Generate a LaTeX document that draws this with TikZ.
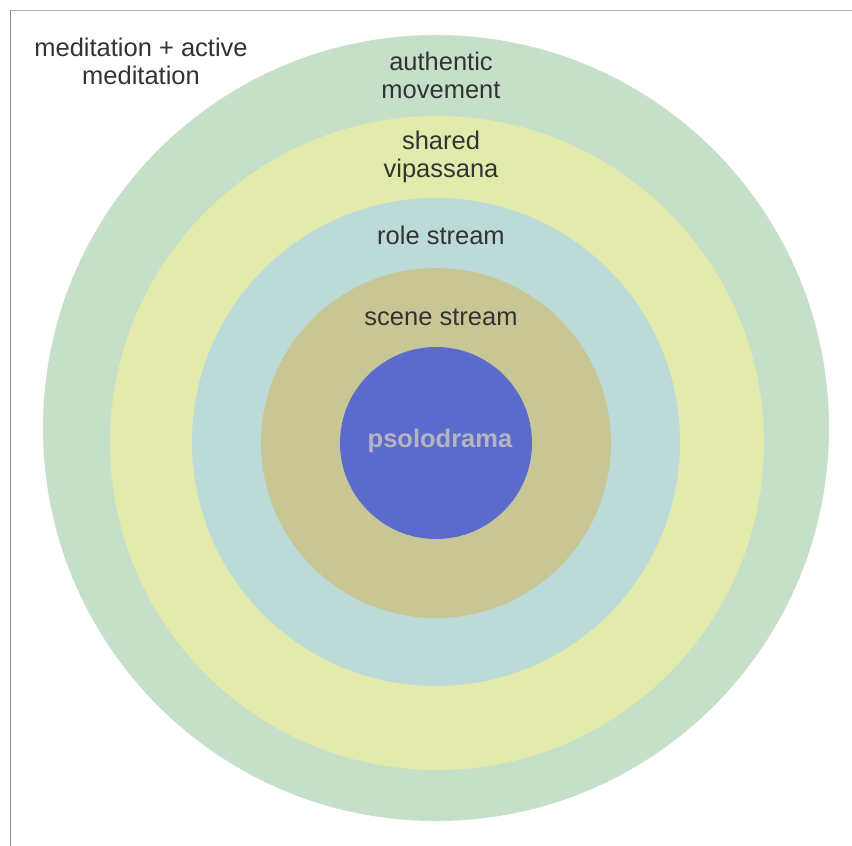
\documentclass[tikz,border=0pt]{standalone}
\usepackage{fontspec}
\setmainfont{Liberation Sans}
\definecolor{ringA}{HTML}{C6DFC8}
\definecolor{ringB}{HTML}{E2EBAB}
\definecolor{ringC}{HTML}{BCDBD8}
\definecolor{ringD}{HTML}{C9C695}
\definecolor{ringE}{HTML}{5B6BCB}
\definecolor{txt}{HTML}{333333}
\definecolor{coretxt}{HTML}{B5B5C2}
\begin{document}
\begin{tikzpicture}[x=1bp,y=-1bp,
  lbl/.style={text=txt,font=\fontsize{25.5bp}{28bp}\selectfont,align=center,inner sep=0pt},
  ring/.style={circle,draw=none,inner sep=0pt}]
\useasboundingbox (0,0) rectangle (852,846);
\fill[white] (0,0) rectangle (852,846);
\draw[line width=1.5bp,color=black!30] (10,10.5) -- (852,10.5);
\draw[line width=1.5bp,color=black!45] (10.5,10) -- (10.5,846);
\node[ring,fill=ringA,minimum size=786bp] (ra) at (436,428) {};
\node[ring,fill=ringB,minimum size=654bp] (rb) at (437,443) {};
\node[ring,fill=ringC,minimum size=488bp] (rc) at (436,442) {};
\node[ring,fill=ringD,minimum size=350bp] (rd) at (436,443) {};
\node[ring,fill=ringE,minimum size=192bp] (re) at (436,443) {};
\node[lbl] (t0) at (141,61.5) {meditation + active\\meditation};
\node[lbl] (t1) at (441,75) {authentic\\movement};
\node[lbl] (t2) at (441,157) {shared\\vipassana};
\node[lbl] (t3) at (441,235) {role stream};
\node[lbl] (t4) at (441,317) {scene stream};
\node[lbl,text=coretxt,font=\fontsize{25.5bp}{28bp}\selectfont\bfseries] (t5) at (440,441) {psolodrama};
\end{tikzpicture}
\end{document}
